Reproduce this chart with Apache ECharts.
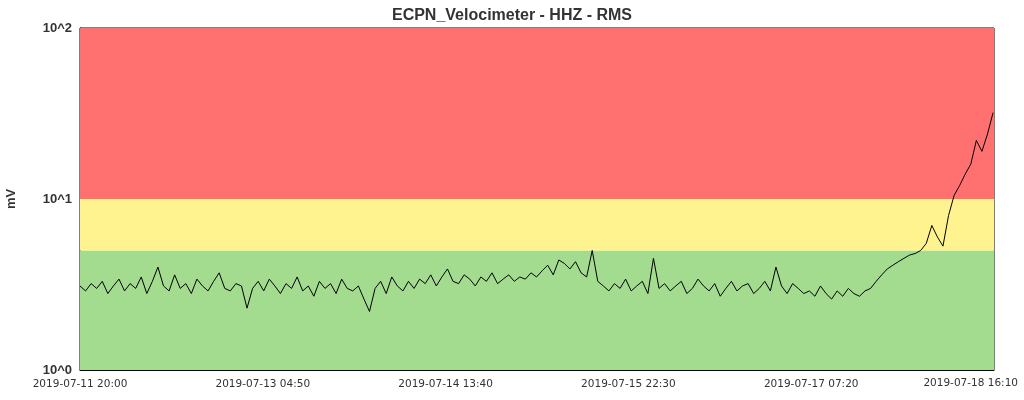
<!DOCTYPE html>
<html><head><meta charset="utf-8">
<script src="https://cdn.jsdelivr.net/npm/echarts@6/dist/echarts.min.js"></script>
<style>html,body{margin:0;padding:0;background:#fff}#c{width:1024px;height:400px}</style>
</head><body><div id="c"></div>
<script>
// hourly RMS values (mV) starting 2019-07-11 20:00
const rms = [
  3.1,2.9,3.2,3.0,3.3,2.8,3.1,3.4,2.9,3.2,3.0,3.5,2.8,3.3,4.0,3.1,2.9,3.6,3.0,3.2,
  2.8,3.4,3.1,2.9,3.3,3.7,3.0,2.9,3.2,3.1,2.3,3.0,3.3,2.9,3.4,3.1,2.8,3.2,3.0,3.5,
  2.9,3.1,2.7,3.3,3.0,3.2,2.8,3.4,3.0,2.9,3.1,2.6,2.2,3.0,3.3,2.8,3.5,3.1,2.9,3.3,
  3.0,3.4,3.2,3.6,3.1,3.5,3.9,3.3,3.2,3.6,3.4,3.1,3.5,3.3,3.7,3.2,3.4,3.6,3.3,3.5,
  3.4,3.7,3.5,3.8,4.1,3.6,4.4,4.2,3.9,4.3,3.7,3.5,5.0,3.3,3.1,2.9,3.2,3.0,3.4,2.9,
  3.1,3.3,2.8,4.5,3.0,3.2,2.9,3.1,3.3,2.8,3.0,3.4,3.1,2.9,3.2,2.7,3.0,3.3,2.9,3.1,
  3.2,2.8,3.0,3.3,2.9,4.0,3.1,2.8,3.2,3.0,2.8,2.9,2.7,3.1,2.8,2.6,2.9,2.7,3.0,2.8,
  2.7,2.9,3.0,3.3,3.6,3.9,4.1,4.3,4.5,4.7,4.8,5.0,5.5,7.0,6.0,5.3,8.0,10.5,12.0,14.0,
  16.0,22.0,19.0,24.0,32.0
];
const startMs = Date.UTC(2019, 6, 11, 20, 0);
const spanHours = 164 + 10 / 60;
const tickStep = 32 + 50 / 60;
const bands = [
  { from: 1, to: 5, color: '#a3db8f' },
  { from: 5, to: 10, color: '#fff38f' },
  { from: 10, to: 100, color: '#ff7070' }
];
const yTickLabels = { 1: '10^0', 10: '10^1', 100: '10^2' };

const pad = n => String(n).padStart(2, '0');
function fmt(h) {
  const d = new Date(startMs + Math.round(h * 60) * 60000);
  return d.getUTCFullYear() + '-' + pad(d.getUTCMonth() + 1) + '-' + pad(d.getUTCDate()) +
    ' ' + pad(d.getUTCHours()) + ':' + pad(d.getUTCMinutes());
}
const labelFont = { fontFamily: 'DejaVu Sans', fontSize: 10.5, color: '#333' };

const chart = echarts.init(document.getElementById('c'));
chart.setOption({
  animation: false,
  title: { text: 'ECPN_Velocimeter - HHZ - RMS', left: 'center', top: 3,
    textStyle: { fontFamily: 'Liberation Sans', fontSize: 16, fontWeight: 'bold', color: '#333' } },
  grid: { left: 80, right: 30, top: 28, bottom: 30, containLabel: false, outerBoundsMode: 'none',
    show: true, borderColor: '#000', borderWidth: 1 },
  graphic: [{
    // last axis label sits shifted left to fit the canvas, as in the reference
    type: 'text', right: 6, top: 378,
    style: Object.assign({ text: fmt(spanHours) }, labelFont, { fill: '#333' })
  }],
  xAxis: {
    type: 'value', min: 0, max: spanHours, interval: tickStep,
    axisLine: { lineStyle: { color: '#000' } }, axisTick: { show: false }, splitLine: { show: false },
    axisLabel: Object.assign({ formatter: fmt, margin: 9, showMaxLabel: false }, labelFont)
  },
  yAxis: {
    type: 'log', min: 1, max: 100, logBase: 10,
    name: 'mV', nameLocation: 'middle', nameGap: 62,
    nameTextStyle: { fontFamily: 'Liberation Sans', fontWeight: 'bold', fontSize: 13, color: '#333' },
    axisLine: { show: true, lineStyle: { color: '#000' } }, axisTick: { show: false }, splitLine: { show: false },
    axisLabel: { formatter: v => yTickLabels[v] || '', color: '#333', fontFamily: 'Liberation Sans', fontWeight: 'bold', fontSize: 13 }
  },
  series: [{
    type: 'line', symbol: 'none',
    data: rms.map((v, i) => [i, v]),
    lineStyle: { color: '#000', width: 1 },
    markArea: {
      silent: true,
      data: bands.map(b => [{ yAxis: b.from, itemStyle: { color: b.color, opacity: 1 } }, { yAxis: b.to }])
    }
  }]
});
</script></body></html>
